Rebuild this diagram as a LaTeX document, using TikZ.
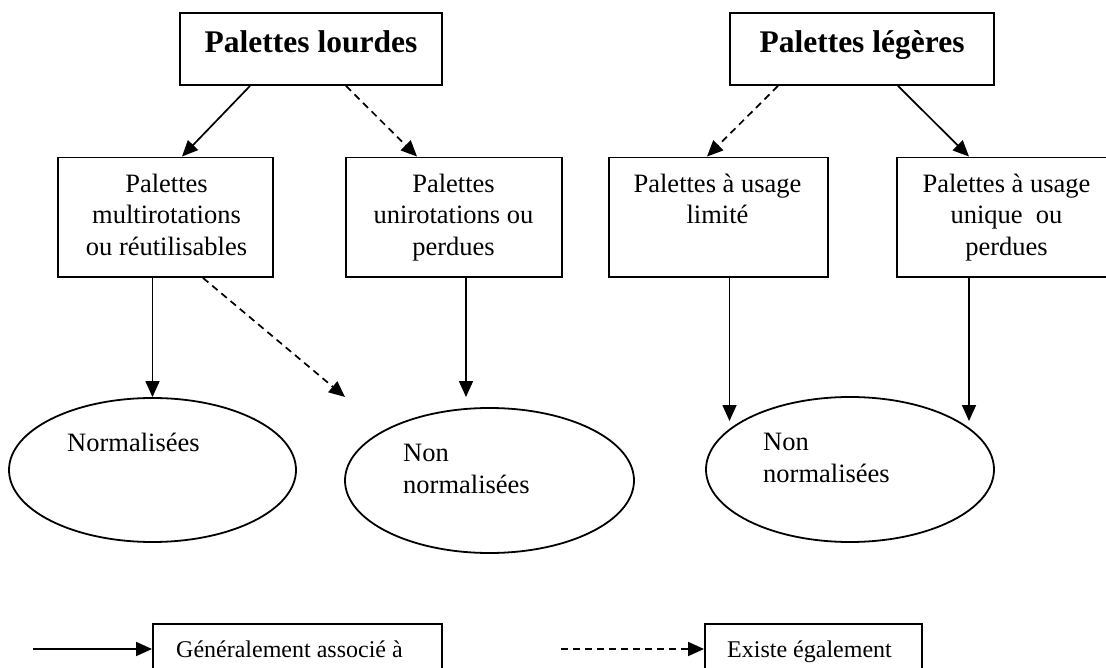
\documentclass[tikz,border=0pt]{standalone}
\usepackage{fontspec}
\setmainfont{Liberation Serif}
\usetikzlibrary{arrows.meta,shapes.geometric,calc}
\begin{document}
\begin{tikzpicture}[x=1pt,y=-1pt,
  boxshape/.style={draw,line width=1.9pt,rectangle,inner sep=0pt},
  ovalshape/.style={draw,line width=1.8pt,ellipse,inner sep=0pt},
  headtxt/.style={font=\bfseries\fontsize{31.5}{36}\selectfont,inner sep=0pt,anchor=base},
  bodytxt/.style={font=\fontsize{26.5}{31.5}\selectfont,inner sep=0pt,align=center,anchor=north},
  ovaltxt/.style={font=\fontsize{26.5}{32}\selectfont,inner sep=0pt,align=left,anchor=north west},
  legtxt/.style={font=\fontsize{24}{28}\selectfont,inner sep=0pt,anchor=base west},
  gen/.style={line width=1.7pt,-{Triangle[length=16pt,width=14pt]}},
  alsoarr/.style={gen,dash pattern=on 7pt off 5pt}]

\useasboundingbox (0,0) rectangle (1106,668);
\clip (0,0) rectangle (1106,668);

% top boxes
\node[boxshape,minimum width=262pt,minimum height=72pt] (A) at (311,49) {};
\node[headtxt] (At) at (311,53) {Palettes lourdes};
\node[boxshape,minimum width=264pt,minimum height=72pt] (L) at (862,49) {};
\node[headtxt] (Lt) at (862,53) {Palettes légères};

% middle boxes
\node[boxshape,minimum width=215pt,minimum height=119.5pt] (B1) at (165.5,217.25) {};
\node[bodytxt] (B1t) at (166.5,173.6) {Palettes\\multirotations\\ou réutilisables};
\node[boxshape,minimum width=216pt,minimum height=119.5pt] (B2) at (454,217.25) {};
\node[bodytxt] (B2t) at (453.5,173.6) {Palettes\\unirotations ou\\perdues};
\node[boxshape,minimum width=219pt,minimum height=119.5pt] (B3) at (718.5,217.25) {};
\node[bodytxt] (B3t) at (717.5,173.6) {Palettes à usage\\limité};
\node[boxshape,minimum width=219pt,minimum height=119.5pt] (B4) at (1006.5,217.25) {};
\node[bodytxt] (B4t) at (1006.5,173.6) {Palettes à usage\\unique\ \ ou\\perdues};

% ellipses
\node[ovalshape,minimum width=287pt,minimum height=144pt] (E1) at (152.5,470) {};
\node[legtxt,font=\fontsize{26.5}{32}\selectfont] (E1t) at (67,451) {Normalisées};
\node[ovalshape,minimum width=289pt,minimum height=145pt] (E2) at (489.5,480.5) {};
\node[ovaltxt] (E2t) at (403,443.6) {Non\\normalisées};
\node[ovalshape,minimum width=288pt,minimum height=145pt] (E3) at (850,469.5) {};
\node[ovaltxt] (E3t) at (763,432.6) {Non\\normalisées};

% connectors
\draw[gen] ($(A.south)+(-61,0)$) -- ($(B1.north)+(16.5,0)$);
\draw[alsoarr] ($(A.south)+(35,0)$) -- ($(B2.north)+(-37,0)$);
\draw[alsoarr] ($(L.south)+(-84,0)$) -- ($(B3.north)+(-11.5,0)$);
\draw[gen] ($(L.south)+(36,0)$) -- ($(B4.north)+(-37.5,0)$);
\draw[gen] (B1.south -| E1.north) -- (E1.north);
\coordinate (t2d) at (345,397);
\draw[alsoarr] ($(B1.south)+(37.5,0)$) -- (t2d);
\coordinate (t2) at (466,397);
\draw[gen] (B2.south -| t2) -- (t2);
\coordinate (t3) at (729.5,421);
\draw[gen] (B3.south -| t3) -- (t3);
\coordinate (t4) at (969,421);
\draw[gen] (B4.south -| t4) -- (t4);

% legend
\node[boxshape,minimum width=289pt,minimum height=66pt] (G) at (297.5,657) {};
\node[legtxt] (Gt) at (176,657) {Généralement associé à};
\node[boxshape,minimum width=217pt,minimum height=66pt] (X) at (813.5,657) {};
\node[legtxt] (Xt) at (727,657) {Existe également};
\coordinate (l1) at (33,649);
\draw[gen] (l1) -- (l1 -| G.west);
\coordinate (l2) at (561,649);
\draw[alsoarr] (l2) -- (l2 -| X.west);
\end{tikzpicture}
\end{document}
